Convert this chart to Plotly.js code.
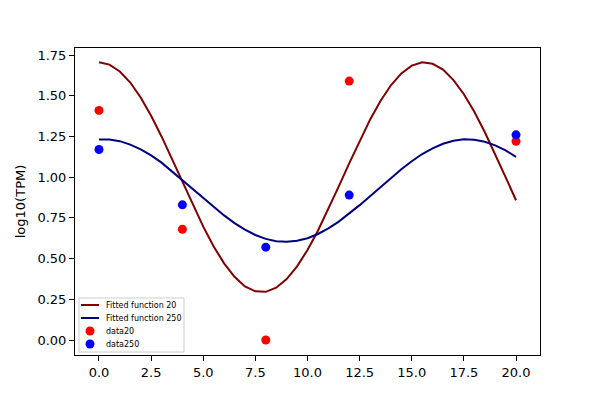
<!DOCTYPE html>
<html>
<head>
<meta charset="utf-8">
<script src="https://cdn.plot.ly/plotly-3.0.1.min.js"></script>
<style>
  html, body { margin: 0; padding: 0; background: #fff; }
  #chart { width: 600px; height: 400px; }
</style>
</head>
<body>
<div id="chart"></div>
<script>
var fitX = [0, 0.5, 1, 1.5, 2, 2.5, 3, 3.5, 4, 4.5, 5, 5.5, 6, 6.5, 7, 7.5, 8, 8.5, 9, 9.5,
  10, 10.5, 11, 11.5, 12, 12.5, 13, 13.5, 14, 14.5, 15, 15.5, 16, 16.5, 17, 17.5, 18, 18.5, 19, 19.5, 20];

var fit20 = [1.706, 1.691, 1.649, 1.581, 1.489, 1.377, 1.250, 1.113, 0.971, 0.831,
  0.696, 0.574, 0.471, 0.388, 0.329, 0.299, 0.296, 0.321, 0.374, 0.452,
  0.553, 0.671, 0.803, 0.943, 1.085, 1.223, 1.353, 1.468, 1.564, 1.637,
  1.685, 1.705, 1.696, 1.660, 1.596, 1.509, 1.402, 1.277, 1.141, 1.000, 0.858];

var fit250 = [1.231, 1.231, 1.221, 1.200, 1.171, 1.134, 1.089, 1.035, 0.975, 0.922,
  0.868, 0.815, 0.765, 0.718, 0.678, 0.645, 0.621, 0.607, 0.603, 0.609,
  0.625, 0.651, 0.685, 0.727, 0.775, 0.828, 0.883, 0.940, 0.996, 1.049,
  1.098, 1.142, 1.177, 1.205, 1.223, 1.232, 1.229, 1.217, 1.195, 1.164, 1.125];

var dataX = [0, 4, 8, 12, 20];
var data20 = [1.41, 0.68, 0.00, 1.59, 1.22];
var data250 = [1.17, 0.83, 0.57, 0.89, 1.26];

var xTicks = [0, 2.5, 5, 7.5, 10, 12.5, 15, 17.5, 20];
var yTicks = [0, 0.25, 0.5, 0.75, 1, 1.25, 1.5, 1.75];

var traces = [
  {
    x: fitX, y: fit20, type: "scatter", mode: "lines",
    name: "Fitted function 20",
    line: { color: "#800000", width: 2 }
  },
  {
    x: fitX, y: fit250, type: "scatter", mode: "lines",
    name: "Fitted function 250",
    line: { color: "#000080", width: 2 }
  },
  {
    x: dataX, y: data20, type: "scatter", mode: "markers",
    name: "data20",
    marker: { color: "#ff0000", size: 9 }
  },
  {
    x: dataX, y: data250, type: "scatter", mode: "markers",
    name: "data250",
    marker: { color: "#0000ff", size: 9 }
  }
];

// plot area in pixels (matplotlib-like default axes box)
var M = { t: 48, r: 60, b: 45, l: 75 };
var plotW = 600 - M.l - M.r, plotH = 400 - M.t - M.b;
function px(x) { return (x - M.l) / plotW; }
function py(y) { return (400 - M.b - y) / plotH; }

// compact legend in the lower left corner, like matplotlib's
var shapes = [{
  type: "rect", xref: "paper", yref: "paper",
  x0: px(79), x1: px(184), y0: py(352), y1: py(298),
  fillcolor: "rgba(255,255,255,0.8)",
  line: { color: "#cccccc", width: 1 }
}];
var annotations = [];
var rowY = [305, 318, 331, 344];
traces.forEach(function (t, i) {
  var yy = py(rowY[i]);
  if (t.mode === "lines") {
    shapes.push({
      type: "line", xref: "paper", yref: "paper",
      x0: px(81), x1: px(99), y0: yy, y1: yy,
      line: { color: t.line.color, width: 2 }
    });
  } else {
    shapes.push({
      type: "circle", xref: "paper", yref: "paper",
      xsizemode: "pixel", ysizemode: "pixel",
      xanchor: px(90), yanchor: yy,
      x0: -4.5, x1: 4.5, y0: -4.5, y1: 4.5,
      fillcolor: t.marker.color, line: { width: 0 }
    });
  }
  annotations.push({
    xref: "paper", yref: "paper", x: px(104), y: yy,
    xanchor: "left", yanchor: "middle", showarrow: false,
    text: t.name,
    font: { family: "DejaVu Sans", size: 8, color: "#000" }
  });
});

var axisCommon = {
  showgrid: false,
  zeroline: false,
  showline: true,
  mirror: true,
  linecolor: "#000",
  linewidth: 1,
  ticks: "outside",
  ticklen: 5,
  tickcolor: "#000",
  tickfont: { family: "DejaVu Sans", size: 13, color: "#000" }
};

var layout = {
  width: 600,
  height: 400,
  margin: M,
  paper_bgcolor: "#fff",
  plot_bgcolor: "#fff",
  showlegend: false,
  shapes: shapes,
  annotations: annotations,
  xaxis: Object.assign({}, axisCommon, {
    range: [-1.15, 21.15],
    tickvals: xTicks,
    tickformat: ".1f"
  }),
  yaxis: Object.assign({}, axisCommon, {
    range: [-0.092, 1.793],
    tickvals: yTicks,
    tickformat: ".2f",
    title: { text: "log10(TPM)", font: { family: "DejaVu Sans", size: 13, color: "#000" }, standoff: 8 }
  })
};

Plotly.newPlot("chart", traces, layout, { displayModeBar: false, staticPlot: true });
</script>
</body>
</html>
